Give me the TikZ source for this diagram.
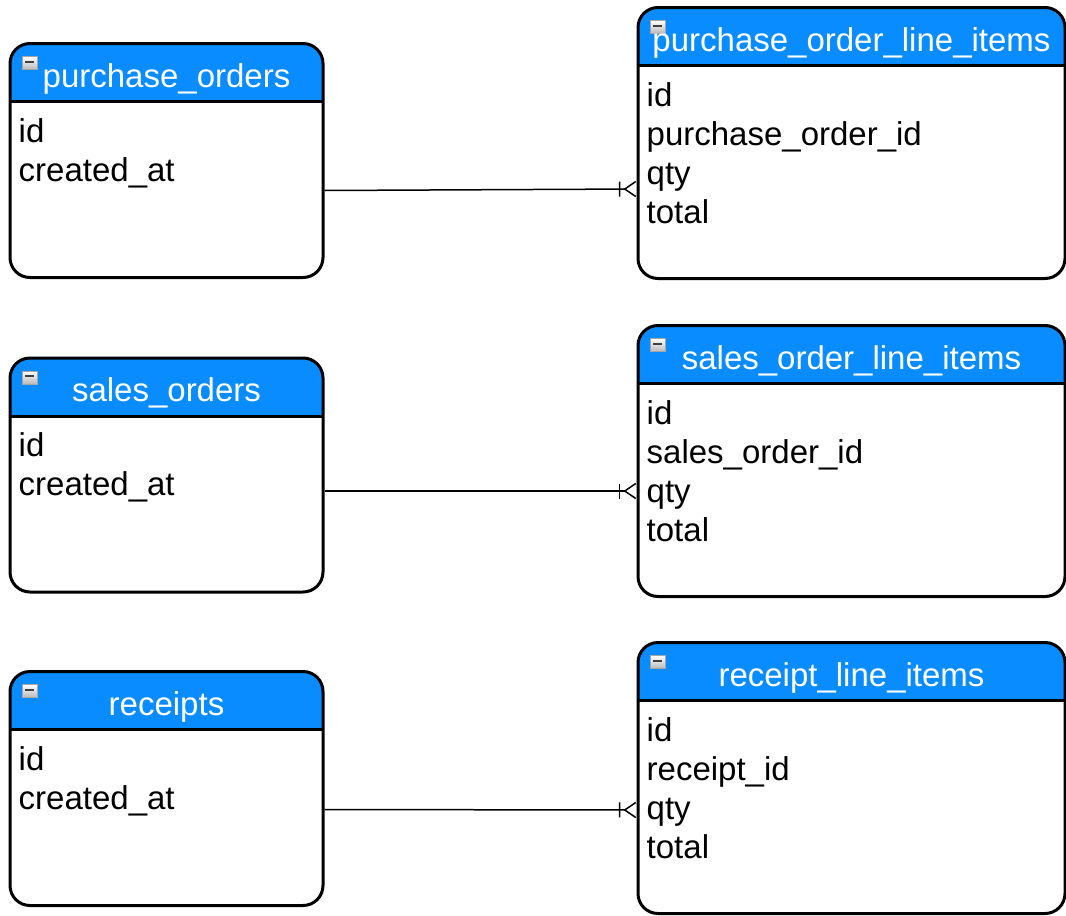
\documentclass[tikz,border=0pt]{standalone}
\usepackage{fontspec}
\setmainfont{Liberation Sans}
\usetikzlibrary{arrows.meta, positioning}
\definecolor{hdrblue}{RGB}{8,140,255}

\begin{document}
\begin{tikzpicture}[x=1pt, y=-1pt,
    tablebox/.style={
        draw=black,
        fill=white,
        rounded corners=20pt,
        line width=3pt,
        inner sep=0pt,
        path picture={
            \fill[hdrblue, sharp corners] (path picture bounding box.north west) rectangle ([yshift=-58pt]path picture bounding box.north east);
            \draw[line width=3pt, sharp corners] ([yshift=-58pt]path picture bounding box.north west) -- ([yshift=-58pt]path picture bounding box.north east);
            \draw[gray!70, line width=0.6pt, top color=white, bottom color=gray!55, sharp corners] ([shift={(12pt,-13pt)}]path picture bounding box.north west) rectangle ++(15pt,-13pt);
            \draw[black!75, line width=2pt] ([shift={(15pt,-18pt)}]path picture bounding box.north west) -- ++(9pt,0pt);
          }
      },
    leftbox/.style={tablebox, minimum width=313pt, minimum height=234pt},
    rightbox/.style={tablebox, minimum width=427pt, minimum height=271pt},
    title/.style={font=\fontsize{33}{39}\selectfont, text=white, anchor=base, inner sep=0pt},
    field/.style={font=\fontsize{33}{39}\selectfont, anchor=base west, inner sep=0pt},
    rel/.style={line width=1.5pt, -{Bar[width=15pt,sep=3pt]Straight Barb[reversed,length=11pt,width=15pt]}}
  ]
  \useasboundingbox (0,0) rectangle (1066,916);

  % tables
  \node[leftbox] (po) at (166.5,160.5) {};
  \node[rightbox] (poli) at (851.5,143) {};
  \node[leftbox] (so) at (166.5,475) {};
  \node[rightbox] (soli) at (851.5,461) {};
  \node[leftbox] (rc) at (166.5,788.5) {};
  \node[rightbox] (rcli) at (851.5,778) {};

  % titles
  \node[title] (po-t) at ([yshift=-45pt]po.north) {purchase\_orders};
  \node[title] (poli-t) at ([yshift=-45pt]poli.north) {purchase\_order\_line\_items};
  \node[title] (so-t) at ([yshift=-45pt]so.north) {sales\_orders};
  \node[title] (soli-t) at ([yshift=-45pt]soli.north) {sales\_order\_line\_items};
  \node[title] (rc-t) at ([yshift=-45pt]rc.north) {receipts};
  \node[title] (rcli-t) at ([yshift=-45pt]rcli.north) {receipt\_line\_items};

  % fields
  \foreach \f [count=\i] in {id, created\_at}
    {
      \node[field] (po-f\i) at ([xshift=10pt, yshift=-100pt-39pt*(\i-1)]po.north west) {\f};
      \node[field] (so-f\i) at ([xshift=10pt, yshift=-100pt-39pt*(\i-1)]so.north west) {\f};
      \node[field] (rc-f\i) at ([xshift=10pt, yshift=-100pt-39pt*(\i-1)]rc.north west) {\f};
    }
  \foreach \f [count=\i] in {id, purchase\_order\_id, qty, total}
    \node[field] (poli-f\i) at ([xshift=10pt, yshift=-100pt-39pt*(\i-1)]poli.north west) {\f};
  \foreach \f [count=\i] in {id, sales\_order\_id, qty, total}
    \node[field] (soli-f\i) at ([xshift=10pt, yshift=-100pt-39pt*(\i-1)]soli.north west) {\f};
  \foreach \f [count=\i] in {id, receipt\_id, qty, total}
    \node[field] (rcli-f\i) at ([xshift=10pt, yshift=-100pt-39pt*(\i-1)]rcli.north west) {\f};

  % relations
  \draw[rel] ([yshift=-30pt]po.east) -- ([yshift=-46pt]poli.west);
  \draw[rel] ([yshift=-16pt]so.east) -- ([yshift=-30pt]soli.west);
  \draw[rel] ([yshift=-21pt]rc.east) -- ([yshift=-32pt]rcli.west);
\end{tikzpicture}
\end{document}
